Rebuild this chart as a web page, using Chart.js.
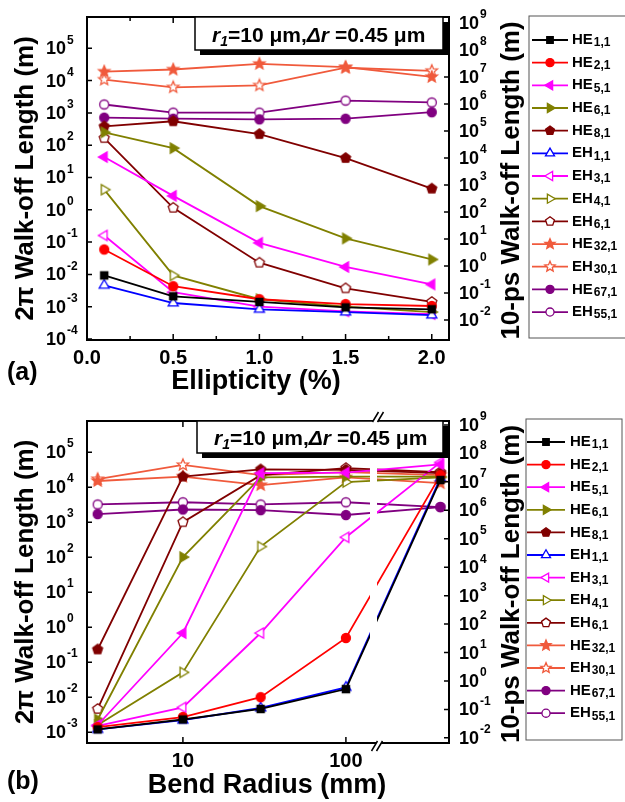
<!DOCTYPE html>
<html>
<head>
<meta charset="utf-8">
<title>Walk-off length</title>
<script src="https://cdn.jsdelivr.net/npm/chart.js@4.4.1/dist/chart.umd.min.js"></script>
<style>
  body { margin: 0; background: #fff; }
  canvas { display: block; }
</style>
</head>
<body>
<canvas id="chartA" width="625" height="400"></canvas>
<canvas id="chartB" width="625" height="402"></canvas>
<script>
/*
* Data
*/

const modes = ['HE1,1', 'HE2,1', 'HE5,1', 'HE6,1', 'HE8,1', 'EH1,1', 'EH3,1', 'EH4,1', 'EH6,1', 'HE32,1', 'EH30,1', 'HE67,1', 'EH55,1'];

// (a) 2pi walk-off length (m) vs ellipticity (%)
const ellipticity = [0.1, 0.5, 1.0, 1.5, 2.0];
const ellHE11 = [9.3e-3, 2.1e-3, 1.4e-3, 9.5e-4, 8.3e-4];
const ellHE21 = [5.9e-2, 4.3e-3, 1.7e-3, 1.2e-3, 1.05e-3];
const ellHE51 = [43, 2.7, 9.5e-2, 1.7e-2, 4.9e-3];
const ellHE61 = [250, 81, 1.3, 0.13, 2.9e-2];
const ellHE81 = [380, 550, 220, 40, 4.5];
const ellEH11 = [4.6e-3, 1.3e-3, 8.3e-4, 6.8e-4, 5.5e-4];
const ellEH31 = [0.16, 2.8e-3, 1.0e-3, 7.2e-4, 5.9e-4];
const ellEH41 = [4.2, 9.3e-3, 1.7e-3, 1.0e-3, 6.8e-4];
const ellEH61 = [166, 1.15, 2.3e-2, 3.7e-3, 1.4e-3];
const ellHE321 = [1.9e4, 2.2e4, 3.3e4, 2.6e4, 1.3e4];
const ellEH301 = [1.07e4, 6.2e3, 7.1e3, 2.5e4, 2.0e4];
const ellHE671 = [710, 660, 630, 660, 1050];
const ellEH551 = [1820, 1020, 1020, 2400, 2100];
const ellSeries = [ellHE11, ellHE21, ellHE51, ellHE61, ellHE81, ellEH11, ellEH31, ellEH41, ellEH61, ellHE321, ellEH301, ellHE671, ellEH551];

// (b) 2pi walk-off length (m) vs bend radius (mm), last column sits past the axis break
const bendRadius = [3, 10, 30, 100, 380];
const bendHE11 = [1.2e-3, 2.3e-3, 4.6e-3, 1.7e-2, 1.6e4];
const bendHE21 = [1.4e-3, 2.7e-3, 1.0e-2, 0.49, 2.2e4];
const bendHE51 = [1.6e-3, 0.68, 2.5e4, 2.6e4, 4.5e4];
const bendHE61 = [2.3e-3, 100, 1.9e4, 2.0e4, 2.0e4];
const bendHE81 = [0.23, 2.0e4, 3.2e4, 3.1e4, 2.5e4];
const bendEH11 = [1.2e-3, 2.2e-3, 4.9e-3, 1.9e-2, 1.8e4];
const bendEH31 = [1.5e-3, 5.1e-3, 0.68, 370, 5.1e4];
const bendEH41 = [1.6e-3, 5.1e-2, 200, 1.4e4, 1.9e4];
const bendEH61 = [4.6e-3, 1000, 2.2e4, 3.5e4, 2.7e4];
const bendHE321 = [1.5e4, 2.0e4, 1.15e4, 1.9e4, 1.3e4];
const bendEH301 = [1.7e4, 4.3e4, 2.2e4, 2.7e4, 2.2e4];
const bendHE671 = [1700, 2300, 2200, 1600, 2700];
const bendEH551 = [3200, 3700, 3200, 3700, 2700];
const bendSeries = [bendHE11, bendHE21, bendHE51, bendHE61, bendHE81, bendEH11, bendEH31, bendEH41, bendEH61, bendHE321, bendEH301, bendHE671, bendEH551];

// ticks
const ellTicks = [0, 0.5, 1.0, 1.5, 2.0];
const ellTickLabels = ['0.0', '0.5', '1.0', '1.5', '2.0'];
const ellMinorTicks = [0.25, 0.75, 1.25, 1.75];
const bendTicks = [10, 100];
const bendTickLabels = ['10', '100'];
const leftTicksA = [1e-4, 1e-3, 1e-2, 1e-1, 1, 10, 100, 1e3, 1e4, 1e5];
const leftTicksB = [1e-3, 1e-2, 1e-1, 1, 10, 100, 1e3, 1e4, 1e5];
const rightTicks = [1e-2, 1e-1, 1, 10, 100, 1e3, 1e4, 1e5, 1e6, 1e7, 1e8, 1e9];

/*
* Styles
*/

const FONT = '"Liberation Sans", Arial, sans-serif';
const orange = '#f05a3c';
const modeStyles = [
  { color: '#000000', shape: 'square', filled: true },
  { color: '#ff0000', shape: 'circle', filled: true },
  { color: '#ff00ff', shape: 'left', filled: true },
  { color: '#808000', shape: 'right', filled: true },
  { color: '#800000', shape: 'pentagon', filled: true },
  { color: '#0000ff', shape: 'up', filled: false },
  { color: '#ff00ff', shape: 'left', filled: false },
  { color: '#808000', shape: 'right', filled: false },
  { color: '#800000', shape: 'pentagon', filled: false },
  { color: orange, shape: 'star', filled: true },
  { color: orange, shape: 'star', filled: false },
  { color: '#800080', shape: 'circle', filled: true },
  { color: '#800080', shape: 'circle', filled: false }
];
const shapeSize = { circle: 4.5, square: 3.6, up: 5.8, left: 5.8, right: 5.8, pentagon: 5.2, star: 6 };

function markerPath(ctx, shape, x, y, r) {
  ctx.beginPath();
  if (shape === 'circle') { ctx.arc(x, y, r, 0, Math.PI * 2); return; }
  if (shape === 'square') { ctx.rect(x - r, y - r, 2 * r, 2 * r); return; }
  var n = 3, start = -90, inner = 0;
  if (shape === 'left') start = 180;
  if (shape === 'right') start = 0;
  if (shape === 'pentagon') n = 5;
  if (shape === 'star') { n = 5; inner = 0.45; }
  var steps = inner ? n * 2 : n;
  for (var i = 0; i < steps; i++) {
    var rr = (inner && i % 2) ? r * inner : r;
    var ang = (start + i * 360 / steps) * Math.PI / 180;
    var px = x + rr * Math.cos(ang), py = y + rr * Math.sin(ang);
    if (i) ctx.lineTo(px, py); else ctx.moveTo(px, py);
  }
  ctx.closePath();
}

function drawMarker(ctx, st, x, y, scale) {
  markerPath(ctx, st.shape, x, y, shapeSize[st.shape] * scale);
  ctx.fillStyle = st.filled ? st.color : '#fff';
  ctx.fill();
  ctx.lineWidth = 1.3;
  ctx.strokeStyle = st.color;
  ctx.stroke();
}

function markerImage(st) {
  var c = document.createElement('canvas');
  c.width = c.height = 16;
  drawMarker(c.getContext('2d'), st, 8, 8, 1);
  return c;
}

function makeDatasets(xs, series) {
  return series.map(function(ys, i) {
    return {
      label: modes[i],
      data: xs.map(function(x, j) { return { x: x, y: ys[j] }; }),
      borderColor: modeStyles[i].color,
      backgroundColor: modeStyles[i].color,
      borderWidth: 1.8,
      pointStyle: markerImage(modeStyles[i]),
      pointRadius: 5,
      tension: 0,
      yAxisID: 'y'
    };
  });
}

/*
* Decoration plugin: frame, inward ticks, labels, legend
*/

function powerLabel(ctx, v, x, y, side) {
  var exp = String(Math.round(Math.log10(v)));
  ctx.font = 'bold 18px ' + FONT;
  var w = ctx.measureText('10').width;
  var x0 = side === 'right' ? x - w : x;
  ctx.textAlign = 'left';
  ctx.textBaseline = 'middle';
  ctx.fillText('10', x0, y + 1);
  ctx.font = 'bold 12px ' + FONT;
  ctx.fillText(exp, x0 + w + 1, y - 8);
}

function vText(ctx, text, x, y) {
  ctx.save();
  ctx.translate(x, y);
  ctx.rotate(-Math.PI / 2);
  ctx.textAlign = 'center';
  ctx.textBaseline = 'middle';
  ctx.fillText(text, 0, 0);
  ctx.restore();
}

function breakMark(ctx, cx, cy) {
  ctx.fillStyle = '#fff';
  ctx.beginPath();
  ctx.moveTo(cx - 5.5, cy + 5); ctx.lineTo(cx + 0.5, cy - 5);
  ctx.lineTo(cx + 5.5, cy - 5); ctx.lineTo(cx - 0.5, cy + 5);
  ctx.closePath(); ctx.fill();
  ctx.strokeStyle = '#000';
  ctx.lineWidth = 1.5;
  ctx.beginPath();
  ctx.moveTo(cx - 5.5, cy + 5); ctx.lineTo(cx + 0.5, cy - 5);
  ctx.moveTo(cx - 0.5, cy + 5); ctx.lineTo(cx + 5.5, cy - 5);
  ctx.stroke();
}

const boxText = [
  ['r', 'italic bold 21px '], ['1', 'italic bold 14px ', 4], ['=10 ', 'bold 21px '], ['\u03bcm,', 'bold 21px '],
  ['\u0394r', 'italic bold 21px '], [' =0.45 ', 'bold 21px '], ['\u03bcm', 'bold 21px ']
];

function panelDecor(p) {
  return {
    id: 'panelDecor',
    afterDatasetsDraw: function(chart) {
      if (!p.breakGap) return;
      var a = chart.chartArea, ctx = chart.ctx;
      ctx.save();
      ctx.fillStyle = '#fff';
      ctx.fillRect(p.breakGap[0], a.top + 1, p.breakGap[1] - p.breakGap[0], a.bottom - a.top - 2);
      ctx.restore();
    },
    afterDraw: function(chart) {
      var ctx = chart.ctx, a = chart.chartArea;
      var sx = chart.scales.x, sy = chart.scales.y, sy2 = chart.scales.y2;
      ctx.save();
      ctx.fillStyle = '#000';
      ctx.strokeStyle = '#000';

      // frame
      ctx.lineWidth = 2;
      ctx.strokeRect(a.left, a.top, a.right - a.left, a.bottom - a.top);

      // inward ticks
      ctx.lineWidth = 1.5;
      ctx.beginPath();
      p.xTicks.forEach(function(v) {
        var x = sx.getPixelForValue(v);
        ctx.moveTo(x, a.bottom); ctx.lineTo(x, a.bottom - 6);
        ctx.moveTo(x, a.top); ctx.lineTo(x, a.top + 6);
      });
      (p.xMinor || []).forEach(function(v) {
        var x = sx.getPixelForValue(v);
        ctx.moveTo(x, a.bottom); ctx.lineTo(x, a.bottom - 4);
        ctx.moveTo(x, a.top); ctx.lineTo(x, a.top + 4);
      });
      p.leftTicks.forEach(function(v) {
        var y = sy.getPixelForValue(v);
        ctx.moveTo(a.left, y); ctx.lineTo(a.left + 5, y);
      });
      p.rightTicks.forEach(function(v) {
        var y = sy2.getPixelForValue(v);
        ctx.moveTo(a.right, y); ctx.lineTo(a.right - 5, y);
      });
      ctx.stroke();

      // tick labels
      ctx.font = 'bold 20px ' + FONT;
      ctx.textAlign = 'center';
      ctx.textBaseline = 'middle';
      p.xTicks.forEach(function(v, i) {
        ctx.fillText(p.xLabels[i], sx.getPixelForValue(v), a.bottom + p.xLabelGap);
      });
      p.leftTicks.forEach(function(v) { powerLabel(ctx, v, a.left - 21, sy.getPixelForValue(v), 'right'); });
      p.rightTicks.forEach(function(v) { powerLabel(ctx, v, a.right + 10, sy2.getPixelForValue(v), 'left'); });

      // axis titles
      var midY = (a.top + a.bottom) / 2;
      ctx.font = 'bold 26px ' + FONT;
      vText(ctx, '2\u03c0 Walk-off Length (m)', 26, midY);
      vText(ctx, '10-ps Walk-off Length (m)', 512, midY + 2);
      ctx.font = 'bold 27px ' + FONT;
      ctx.textAlign = 'center';
      ctx.textBaseline = 'middle';
      ctx.fillText(p.xTitle, p.xTitleX, p.xTitleY);
      ctx.font = 'bold 25px ' + FONT;
      ctx.textAlign = 'left';
      ctx.fillText(p.tag, 7, p.tagY);

      // parameter box with shadow
      var b = p.box;
      ctx.fillStyle = '#000';
      ctx.fillRect(b[0] + 5, b[1] + 5, b[2], b[3]);
      ctx.fillStyle = '#fff';
      ctx.fillRect(b[0], b[1], b[2], b[3]);
      ctx.lineWidth = 1.5;
      ctx.strokeRect(b[0], b[1], b[2], b[3]);
      ctx.fillStyle = '#000';
      ctx.textBaseline = 'alphabetic';
      var tx = b[0] + 17;
      boxText.forEach(function(pc) {
        ctx.font = pc[1] + FONT;
        ctx.fillText(pc[0], tx, p.textY + (pc[2] || 0));
        tx += ctx.measureText(pc[0]).width;
      });

      // axis break
      if (p.breakMarks) p.breakMarks.forEach(function(m) { breakMark(ctx, m[0], m[1]); });

      // legend
      var L = p.legend;
      ctx.strokeStyle = '#555';
      ctx.lineWidth = 1;
      ctx.strokeRect(L.x, L.y, L.w, L.h);
      modes.forEach(function(m, i) {
        var y = L.row0 + i * L.step, st = modeStyles[i];
        ctx.strokeStyle = st.color;
        ctx.lineWidth = 1.8;
        ctx.beginPath();
        ctx.moveTo(L.line[0], y); ctx.lineTo(L.line[1], y);
        ctx.stroke();
        drawMarker(ctx, st, (L.line[0] + L.line[1]) / 2, y, 0.9);
        ctx.fillStyle = '#000';
        ctx.textAlign = 'left';
        ctx.textBaseline = 'middle';
        ctx.font = 'bold 15px ' + FONT;
        ctx.fillText(m.slice(0, 2), L.textX, y);
        var w = ctx.measureText(m.slice(0, 2)).width;
        ctx.font = 'bold 12px ' + FONT;
        ctx.fillText(m.slice(2), L.textX + w + 1, y + 3);
      });
      ctx.restore();
    }
  };
}

function axis(extra) {
  return Object.assign({
    grid: { display: false },
    border: { display: false },
    ticks: { display: false }
  }, extra);
}

function makeChart(id, xs, series, xScale, yMin, yMax, y2Min, y2Max, padTop, xHeight, decor) {
  return new Chart(document.getElementById(id).getContext('2d'), {
    type: 'line',
    data: { datasets: makeDatasets(xs, series) },
    options: {
      responsive: false,
      animation: false,
      layout: { padding: { top: padTop, right: 100, left: 0, bottom: 0 } },
      plugins: { legend: { display: false }, tooltip: { enabled: false } },
      scales: {
        x: axis(Object.assign({ afterFit: function(s) { s.height = xHeight; } }, xScale)),
        y: axis({ type: 'logarithmic', position: 'left', min: yMin, max: yMax, afterFit: function(s) { s.width = 87; } }),
        y2: axis({ type: 'logarithmic', position: 'right', min: y2Min, max: y2Max, afterFit: function(s) { s.width = 76; } })
      }
    },
    plugins: [panelDecor(decor)]
  });
}

/*
* Charts
*/

makeChart('chartA', ellipticity, ellSeries, { type: 'linear', min: 0, max: 2.1 },
  9.3e-5, 9.3e5, 1.82e-3, 1.66e9, 17, 60, {
    xTicks: ellTicks, xLabels: ellTickLabels, xMinor: ellMinorTicks,
    leftTicks: leftTicksA, rightTicks: rightTicks, xLabelGap: 18,
    xTitle: 'Ellipticity (%)', xTitleX: 256, xTitleY: 382,
    tag: '(a)', tagY: 373,
    box: [195, 17, 248, 33], textY: 42,
    legend: { x: 529, y: 16, w: 110, h: 322, row0: 40, step: 22.67, line: [532, 568], textX: 572 }
  });

makeChart('chartB', bendRadius, bendSeries, { type: 'logarithmic', min: 2.58, max: 429 },
  4.9e-4, 7.76e5, 6.6e-3, 1.38e9, 21, 59, {
    xTicks: bendTicks, xLabels: bendTickLabels,
    leftTicks: leftTicksB, rightTicks: rightTicks, xLabelGap: 18,
    xTitle: 'Bend Radius (mm)', xTitleX: 267, xTitleY: 386,
    tag: '(b)', tagY: 382,
    box: [197, 21, 246, 32], textY: 45,
    breakGap: [370, 377], breakMarks: [[378, 17], [377, 346]],
    legend: { x: 526, y: 19, w: 96, h: 321, row0: 42, step: 22.6, line: [527, 565], textX: 570 }
  });
</script>
</body>
</html>
